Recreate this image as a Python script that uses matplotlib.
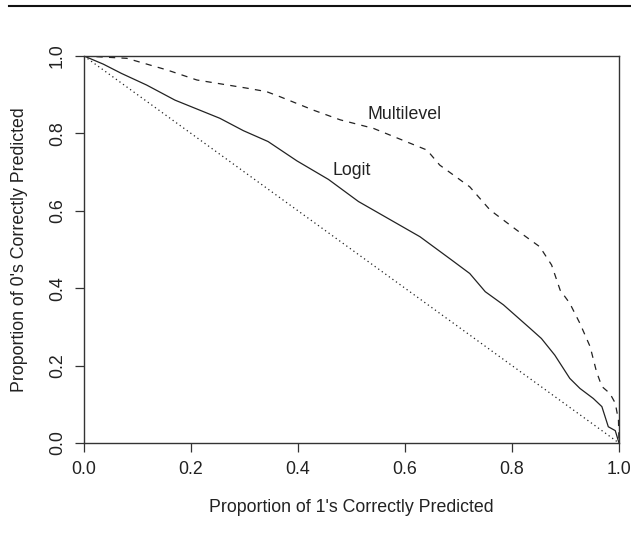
import matplotlib
matplotlib.use("Agg")
import matplotlib.pyplot as plt
from matplotlib.lines import Line2D

plt.rcParams['font.family'] = ['Liberation Sans', 'DejaVu Sans']

# proportion of 1's correctly predicted (x) vs proportion of 0's (y)
logit_x = [0.000, 0.036, 0.070, 0.117, 0.170, 0.254, 0.298, 0.344, 0.398, 0.457,
           0.513, 0.628, 0.687, 0.721, 0.750, 0.784, 0.834, 0.855, 0.880, 0.908,
           0.927, 0.952, 0.968, 0.974, 0.980, 0.993, 1.000]
logit_y = [1.000, 0.979, 0.955, 0.925, 0.886, 0.839, 0.807, 0.779, 0.729, 0.681,
           0.624, 0.533, 0.473, 0.438, 0.391, 0.357, 0.296, 0.270, 0.227, 0.167,
           0.141, 0.115, 0.094, 0.068, 0.042, 0.032, 0.000]

multi_x = [0.000, 0.080, 0.155, 0.211, 0.304, 0.341, 0.366, 0.429, 0.479, 0.541,
           0.641, 0.665, 0.721, 0.759, 0.809, 0.852, 0.874, 0.890, 0.908, 0.927,
           0.946, 0.958, 0.968, 0.983, 0.993, 0.999, 1.000]
multi_y = [1.000, 0.994, 0.964, 0.938, 0.917, 0.908, 0.895, 0.860, 0.835, 0.813,
           0.757, 0.718, 0.662, 0.602, 0.550, 0.507, 0.460, 0.395, 0.361, 0.309,
           0.249, 0.184, 0.146, 0.128, 0.103, 0.059, 0.000]

ref_x = [0, 1]
ref_y = [1, 0]

ticks = [0.0, 0.2, 0.4, 0.6, 0.8, 1.0]
tick_labels = ["0.0", "0.2", "0.4", "0.6", "0.8", "1.0"]

W, H = 631, 545
fs = 12.8
fig = plt.figure(figsize=(W / 100, H / 100), dpi=100)
ax = fig.add_axes([84 / W, 1 - 443 / H, (619 - 84) / W, (443 - 56) / H])

lc = "#222222"
ax.plot(logit_x, logit_y, color=lc, lw=0.9)
ax.plot(multi_x, multi_y, color=lc, lw=0.9, dashes=(5, 5))
ax.plot(ref_x, ref_y, color=lc, lw=0.9, dashes=(1, 2.5))

ax.text(0.600, 0.848, "Multilevel", fontsize=fs, ha="center", va="center", color=lc)
ax.text(0.501, 0.703, "Logit", fontsize=fs, ha="center", va="center", color=lc)

ax.set_xlim(0, 1)
ax.set_ylim(0, 1)
ax.set_xticks(ticks)
ax.set_xticklabels(tick_labels)
ax.set_yticks(ticks)
ax.set_yticklabels(tick_labels, rotation=90, va="center")
ax.tick_params(length=6.5, width=0.9, color="#333333", labelsize=fs,
               labelcolor=lc, pad=6.5)
for s in ax.spines.values():
    s.set_linewidth(1.0)
    s.set_color("#333333")

ax.set_xlabel("Proportion of 1's Correctly Predicted", fontsize=fs, color=lc, va="center")
ax.set_ylabel("Proportion of 0's Correctly Predicted", fontsize=fs, color=lc, va="center")
ax.xaxis.set_label_coords(0.5, (443 - 507) / 387)
ax.yaxis.set_label_coords((20 - 84) / 535, 0.5)

# rule across the top of the page
fig.add_artist(Line2D([9 / W, 1], [1 - 6 / H, 1 - 6 / H], color="#111111", lw=1.5))

fig.savefig("out.png", dpi=100)
